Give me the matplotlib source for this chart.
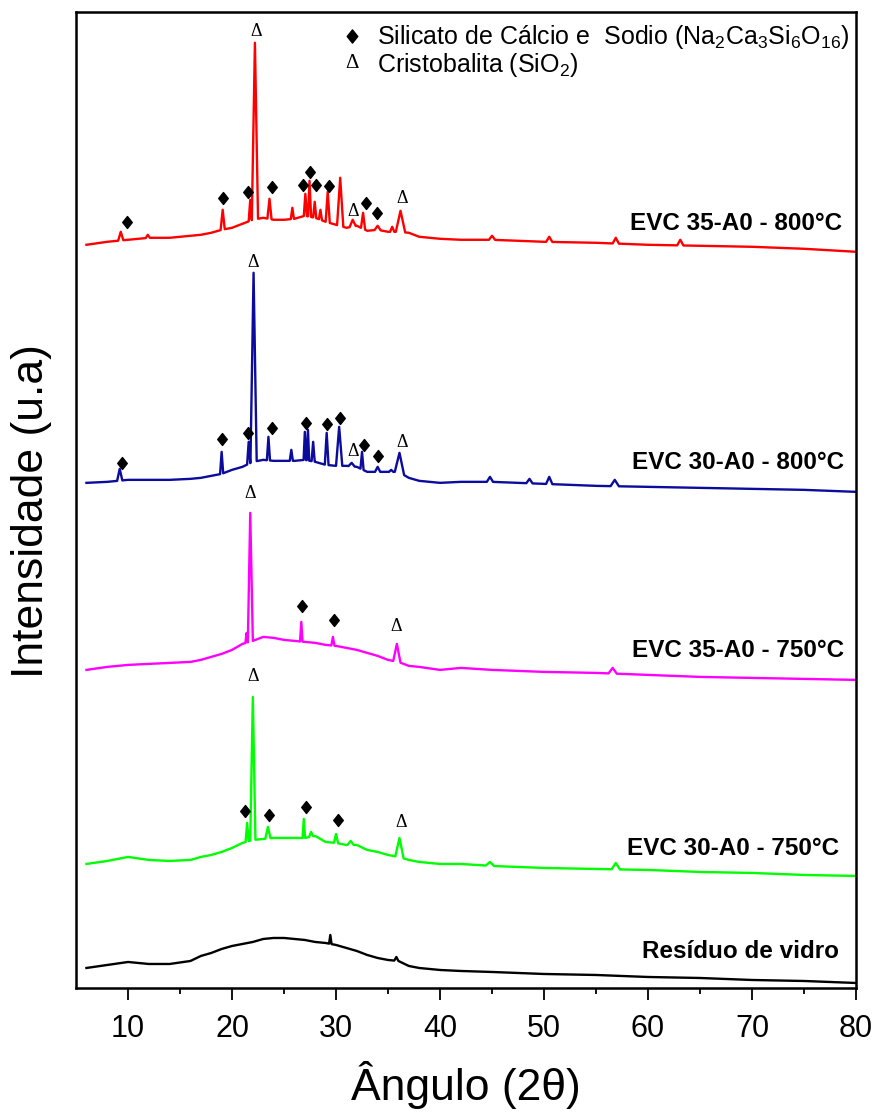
import numpy as np
import matplotlib.pyplot as plt
from matplotlib.path import Path

plt.rcParams['font.family'] = ['Liberation Sans', 'DejaVu Sans']
plt.rcParams['mathtext.fontset'] = 'custom'
plt.rcParams['mathtext.rm'] = 'Liberation Sans'
plt.rcParams['mathtext.it'] = 'Liberation Sans:italic'
plt.rcParams['mathtext.bf'] = 'Liberation Sans:bold'

# 2-theta positions where the background of each pattern was read
grid = [6, 8, 10, 12, 14, 16, 17, 18, 19, 20, 21, 22, 23, 24, 25, 26, 27, 28, 29, 30,
        31, 32, 33, 34, 35, 36, 37, 38, 40, 42, 45, 50, 55, 60, 65, 70, 75, 80]

# background (already offset for stacking, arbitrary units)
base_r800_35 = [743, 746, 748, 750, 750, 752, 753, 755, 758, 760, 764, 768, 770, 768, 768, 769, 772, 770, 766, 763,
                760, 762, 757, 758, 756, 756, 755, 751, 749, 748, 748, 746, 745, 743, 742, 741, 739, 736]
base_b800_30 = [505, 506, 508, 508, 508, 509, 510, 512, 514, 518, 521, 526, 528, 527, 527, 527, 528, 526, 523, 522,
                522, 521, 516, 516, 516, 516, 510, 507, 505, 506, 506, 504, 502, 501, 500, 499, 498, 496]
base_m750_35 = [318, 321, 323, 324, 325, 326, 328, 331, 334, 338, 344, 347, 351, 350, 348, 347, 346, 345, 343, 342,
                340, 338, 335, 332, 328, 326, 322, 321, 318, 320, 318, 316, 315, 313, 311, 310, 309, 308]
base_g750_30 = [124, 127, 131, 128, 127, 128, 131, 133, 136, 140, 145, 148, 149, 150, 150, 150, 150, 152, 146, 145,
                143, 143, 138, 136, 133, 131, 128, 126, 124, 124, 122, 120, 119, 118, 116, 115, 113, 112]
base_vidro = [20, 23, 26, 24, 24, 27, 32, 35, 39, 42, 44, 46, 49, 50, 50, 49, 48, 46, 45, 43,
              40, 37, 33, 30, 28, 27, 22, 20, 18, 17, 16, 14, 13, 11, 10, 8, 7, 5]

# peaks: (2theta, top intensity, half width at base)
peaks_r800_35 = [(9.3, 756, 0.25), (11.9, 753, 0.2), (19.1, 778, 0.2), (21.75, 788, 0.15), (22.2, 945, 0.3),
                 (23.6, 789, 0.2), (25.8, 780, 0.15), (27.05, 794, 0.15), (27.45, 807, 0.15), (27.95, 786, 0.15),
                 (28.5, 778, 0.15), (29.2, 796, 0.2), (30.4, 810, 0.3), (31.6, 768, 0.3), (32.6, 775, 0.2),
                 (34.0, 762, 0.3), (35.4, 761, 0.2), (36.2, 777, 0.45), (45.0, 752, 0.3), (50.5, 751, 0.3),
                 (56.9, 750, 0.3), (63.1, 748, 0.3)]
peaks_b800_30 = [(9.2, 519, 0.25), (19.0, 536, 0.15), (21.6, 546, 0.15), (22.07, 715, 0.3), (23.5, 551, 0.15),
                 (25.7, 538, 0.15), (27.0, 556, 0.12), (27.3, 558, 0.12), (27.8, 546, 0.15), (29.1, 555, 0.18),
                 (30.3, 561, 0.3), (31.5, 525, 0.3), (32.5, 536, 0.15), (34.0, 521, 0.25), (35.3, 518, 0.2),
                 (36.1, 535, 0.45), (44.8, 511, 0.3), (48.6, 509, 0.3), (50.5, 511, 0.3), (56.8, 508, 0.4)]
peaks_m750_35 = [(21.4, 355, 0.12), (21.75, 475, 0.25), (26.66, 366, 0.12), (29.7, 351, 0.15),
                 (35.85, 344, 0.35), (56.6, 320, 0.4)]
peaks_g750_30 = [(21.45, 165, 0.15), (22.0, 291, 0.25), (23.45, 161, 0.25), (26.9, 169, 0.12), (27.6, 156, 0.2),
                 (30.0, 154, 0.2), (31.4, 147, 0.3), (36.1, 150, 0.4), (44.8, 126, 0.4), (56.9, 125, 0.4)]
peaks_vidro = [(29.45, 53, 0.12), (35.8, 31, 0.2)]

# phase markers (2theta, height)
silicato_r = [(9.88, 766), (19.15, 790), (21.58, 796), (23.86, 801), (26.78, 803), (27.49, 816),
              (28.10, 803), (29.28, 802), (32.88, 785), (33.94, 775)]
cristob_r = [(22.30, 956), (31.63, 776), (36.35, 789)]
silicato_b = [(9.40, 525), (19.08, 549), (21.55, 555), (23.86, 560), (27.14, 565), (29.13, 564),
              (30.41, 570), (32.69, 543), (34.07, 532)]
cristob_b = [(22.06, 725), (31.63, 536), (36.38, 545)]
silicato_m = [(26.68, 382), (29.83, 368)]
cristob_m = [(21.75, 494), (35.73, 361)]
silicato_g = [(21.27, 177), (23.60, 173), (27.14, 181), (30.15, 168)]
cristob_g = [(22.06, 311), (36.25, 165)]

names = ['EVC 35-A0 - 800°C', 'EVC 30-A0 - 800°C', 'EVC 35-A0 - 750°C', 'EVC 30-A0 - 750°C', 'Resíduo de vidro']
colors = ['#ff0000', '#0b0b9c', '#ff00ff', '#00ff00', '#000000']
label_pos = [(78.7, 758), (78.9, 519), (78.9, 331), (78.35, 133), (78.35, 30)]


def pattern(base, peaks):
    g = np.array(grid, float)
    b = np.array(base, float)
    keep = np.ones(len(g), bool)
    for p, h, w in peaks:
        keep &= ~((g > p - w) & (g < p + w))
    xs = list(g[keep])
    ys = list(b[keep])
    for p, h, w in peaks:
        xs += [p - w, p, p + w]
        ys += [np.interp(p - w, g, b), h, np.interp(p + w, g, b)]
    order = np.argsort(xs, kind='stable')
    return np.array(xs)[order], np.array(ys)[order]


diamond = Path([(0, 1), (0.8, 0), (0, -1), (-0.8, 0), (0, 1)],
               [Path.MOVETO, Path.LINETO, Path.LINETO, Path.LINETO, Path.CLOSEPOLY])
serif = ['Liberation Serif', 'DejaVu Serif']

fig = plt.figure(figsize=(8.77, 11.17), dpi=100)
ax = fig.add_axes([0.0867, 0.1155, 0.8894, 0.874])

bases = [base_r800_35, base_b800_30, base_m750_35, base_g750_30, base_vidro]
peaks = [peaks_r800_35, peaks_b800_30, peaks_m750_35, peaks_g750_30, peaks_vidro]
for base, pk, c, name, (lx, ly) in zip(bases, peaks, colors, names, label_pos):
    x, y = pattern(base, pk)
    ax.plot(x, y, color=c, lw=1.7)
    ax.text(lx, ly, name, ha='right', va='baseline', fontsize=17.5, fontweight='bold')

for pts in [silicato_r, silicato_b, silicato_m, silicato_g]:
    px, py = zip(*pts)
    ax.plot(px, py, ls='none', marker=diamond, ms=8.6, color='black')
for pts in [cristob_r, cristob_b, cristob_m, cristob_g]:
    for px, py in pts:
        ax.text(px, py, 'Δ', ha='center', va='center', fontsize=13, family=serif)

# legend
ax.plot([31.56], [952], ls='none', marker=diamond, ms=9.5, color='black')
ax.text(31.56, 924, 'Δ', ha='center', va='center', fontsize=15, family=serif)
ax.text(33.97, 951, 'Silicato de Cálcio e  Sodio (Na$_2$Ca$_3$Si$_6$O$_{16}$)', va='center', fontsize=18)
ax.text(33.97, 923, 'Cristobalita (SiO$_2$)', va='center', fontsize=18)

ax.set_xlim(5, 80)
ax.set_ylim(0, 976)
ax.set_xticks([10, 20, 30, 40, 50, 60, 70, 80])
ax.set_xticks([15, 25, 35, 45, 55, 65, 75], minor=True)
ax.set_yticks([])
ax.tick_params(axis='x', which='major', direction='out', length=8.5, width=1.3, pad=10)
ax.tick_params(axis='x', which='minor', direction='out', length=4.5, width=1.3)
for lab in ax.get_xticklabels():
    lab.set_fontsize(22)
for s in ax.spines.values():
    s.set_linewidth(1.8)

fig.text(466 / 877, 1 - 1085 / 1117, 'Ângulo (2θ)', fontsize=32, ha='center', va='center')
fig.text(32 / 877, 1 - 511 / 1117, 'Intensidade (u.a)', fontsize=32, rotation=90, ha='center', va='center')

fig.savefig('out.png', dpi=100)
